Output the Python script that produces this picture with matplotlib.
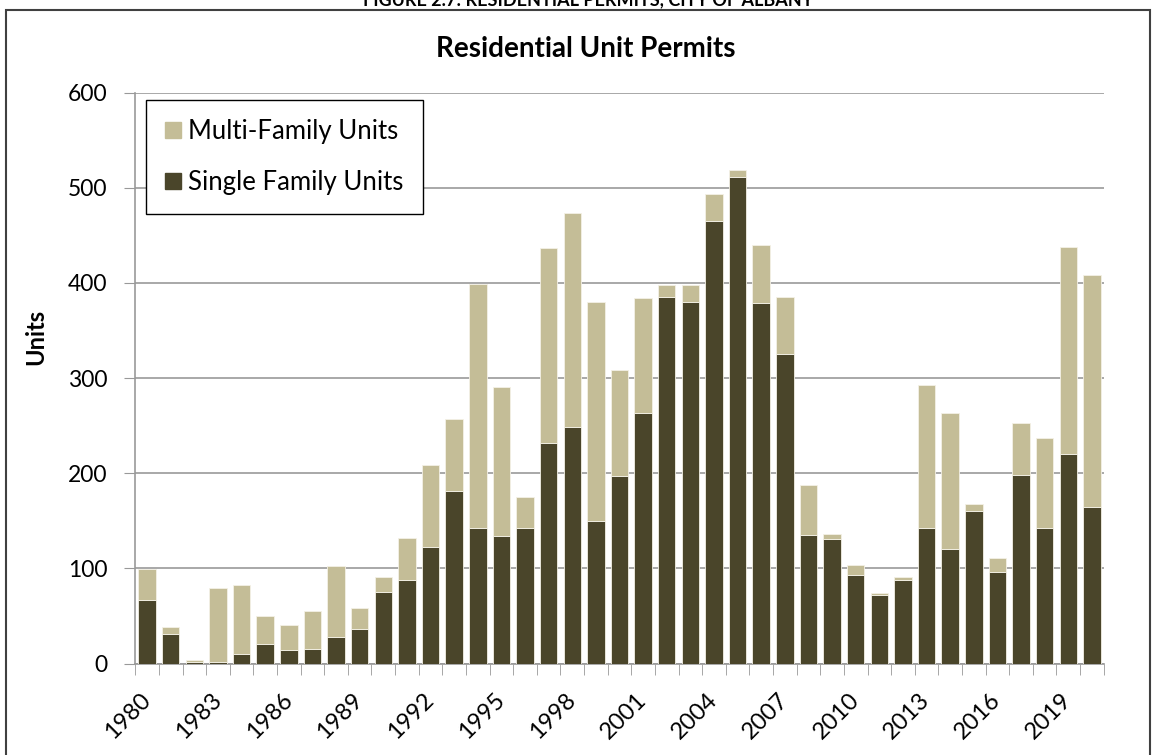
import matplotlib.pyplot as plt
import numpy as np
from matplotlib.patches import Rectangle

# Data
years = list(range(1980, 2021))
single_family = [67, 31, 2, 2, 10, 21, 14, 15, 28, 36, 75, 88, 122, 181, 142, 134, 142,
                 232, 249, 150, 197, 263, 385, 380, 465, 511, 379, 325, 135, 131,
                 93, 72, 88, 142, 120, 160, 96, 198, 142, 220, 164]
multi_family = [32, 7, 2, 77, 73, 29, 26, 40, 74, 22, 16, 44, 87, 76, 257, 157, 33,
                205, 225, 230, 111, 121, 13, 18, 28, 8, 61, 60, 53, 5,
                11, 2, 3, 151, 143, 8, 15, 55, 95, 218, 244]
label_years = years[::3]

single_color = '#4A452A'
multi_color = '#C4BD97'

plt.rcParams['font.family'] = ['Lato', 'DejaVu Sans']

W, H = 1153, 755
fig = plt.figure(figsize=(W / 100, H / 100), dpi=100)
ax = fig.add_axes([135.3 / W, 1 - 663.5 / H, (1103.7 - 135.3) / W, (663.5 - 92.7) / H])

x = np.arange(len(years))
ax.bar(x, single_family, width=0.74, color=single_color,
       edgecolor='#f4f1e6', linewidth=0.6, label='Single Family Units', zorder=3)
ax.bar(x, multi_family, width=0.74, bottom=single_family, color=multi_color,
       edgecolor='#f4f1e6', linewidth=0.6, label='Multi-Family Units', zorder=3)

ax.set_xlim(-0.5, len(years) - 0.5)
ax.set_ylim(0, 600)
ax.set_yticks(range(0, 601, 100))
ax.yaxis.grid(True, color='#999999', linewidth=1.2, zorder=0)
ax.tick_params(axis='y', labelsize=16.5, length=8, color='#999999', pad=12)

# labels every 3 years, tick marks between categories
ax.set_xticks([years.index(y) for y in label_years])
ax.set_xticklabels([str(y) for y in label_years], rotation=45, ha='right',
                   va='center', rotation_mode='anchor', fontsize=17)
ax.tick_params(axis='x', which='major', length=0, pad=24)
ax.set_xticks(np.arange(-0.5, len(years), 1), minor=True)
ax.tick_params(axis='x', which='minor', length=8, color='#999999')

for side in ['top', 'right']:
    ax.spines[side].set_visible(False)
for side in ['left', 'bottom']:
    ax.spines[side].set_color('#999999')
    ax.spines[side].set_linewidth(1.2)

# label's right edge sits near x=47 px
ax.set_ylabel('Units', fontsize=17, fontweight='bold')
ax.yaxis.set_label_coords((47 - 135.3) / 968.4, (663.5 - 337) / 570.8)

handles = [Rectangle((0, 0), 1, 1, color=multi_color),
           Rectangle((0, 0), 1, 1, color=single_color)]
leg = ax.legend(handles, ['Multi-Family Units', 'Single Family Units'],
                loc='upper left', bbox_to_anchor=((146 - 135.3) / 968.4, (663.5 - 100) / 570.8),
                borderaxespad=0, fontsize=18.5,
                fancybox=False, edgecolor='black', framealpha=1,
                handlelength=0.6, handleheight=0.6, handletextpad=0.3,
                labelspacing=1.0, borderpad=0.75)
leg.get_frame().set_linewidth(1.0)

fig.text(586 / W, 1 - 57 / H, 'Residential Unit Permits', ha='center',
         va='baseline', fontsize=20, fontweight='bold')
# caption cut off by the top edge
fig.text(588 / W, 1 - 5 / H, 'FIGURE 2.7: RESIDENTIAL PERMITS, CITY OF ALBANY',
         ha='center', va='baseline', fontsize=13, fontweight='bold')

# outer frame
fig.patches.append(Rectangle((6 / W, -0.05), (1150 - 6) / W, 1.05 - 10 / H,
                             transform=fig.transFigure, fill=False,
                             edgecolor='#404040', linewidth=1.5))

fig.savefig('out.png', dpi=100)
